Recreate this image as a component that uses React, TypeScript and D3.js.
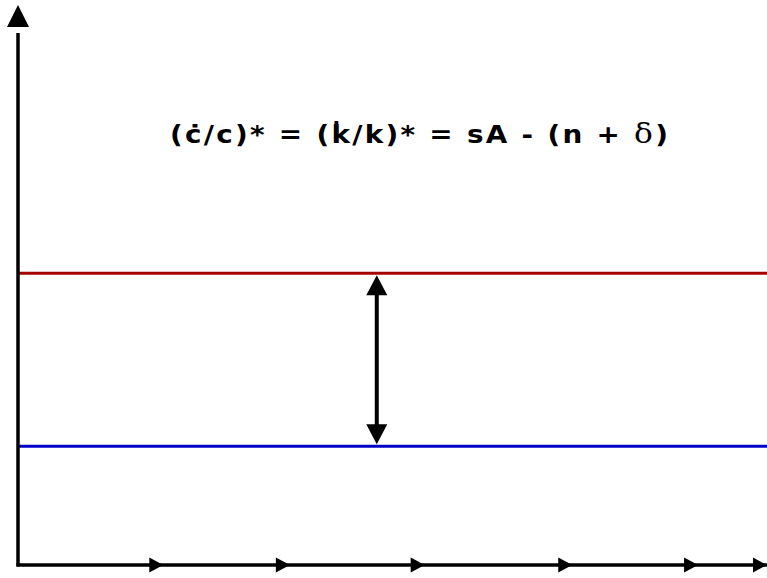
import React from "react";
import * as d3 from "d3";

const W = 767;
const H = 578;

// time-axis direction markers (x positions of arrow tips, in data units)
const timeArrows = [1.94, 3.63, 5.43, 7.4, 9.08, 10];
// horizontal growth-rate levels
const levels = [
  { name: "sA", value: 5.21, color: "#a50000" },
  { name: "n + δ", value: 2.12, color: "#0000c8" },
];

export default function App() {
  const x = d3.scaleLinear().domain([0, 10]).range([18, 767]);
  const y = d3.scaleLinear().domain([0, 10]).range([565, 5]);

  const y0 = y(0);
  const xa = x(0);
  const upper = y(levels[0].value);
  const lower = y(levels[1].value);
  const arrowX = x(4.79);

  const rightTri = (tip: number, cy: number) =>
    `M${tip},${cy} L${tip - 14},${cy - 7.5} L${tip - 14},${cy + 7.5} Z`;

  const sx = 1.16;

  return (
    <svg
      width={W}
      height={H}
      style={{ position: "absolute", left: 0, top: 0, background: "#fff" }}
    >
      {/* level lines */}
      {levels.map((l) => (
        <line
          key={l.name}
          x1={xa}
          x2={x(10)}
          y1={y(l.value)}
          y2={y(l.value)}
          stroke={l.color}
          strokeWidth={3}
        />
      ))}

      {/* y axis */}
      <line x1={xa} x2={xa} y1={y0 + 1.5} y2={y(9.5)} stroke="#000" strokeWidth={3.5} />
      <path d={`M${xa},${y(10)} L${xa - 11},${y(10) + 22} L${xa + 11},${y(10) + 22} Z`} fill="#000" />

      {/* x axis */}
      <line x1={xa - 1.5} x2={x(10)} y1={y0} y2={y0} stroke="#000" strokeWidth={3.5} />
      {timeArrows.map((t, i) => (
        <path key={i} d={rightTri(x(t), y0)} fill="#000" />
      ))}

      {/* double arrow between levels */}
      <line x1={arrowX} x2={arrowX} y1={upper + 15} y2={lower - 15} stroke="#000" strokeWidth={4} />
      <path d={`M${arrowX},${upper + 2} L${arrowX - 10.5},${upper + 22} L${arrowX + 10.5},${upper + 22} Z`} fill="#000" />
      <path d={`M${arrowX},${lower - 2} L${arrowX - 10.5},${lower - 22} L${arrowX + 10.5},${lower - 22} Z`} fill="#000" />

      {/* equation */}
      <g transform={`translate(170,143) scale(${sx},1)`}>
        <text
          x={0}
          y={0}
          fontFamily="DejaVu Sans, Verdana, sans-serif"
          fontWeight="bold"
          fontSize={24}
          fill="#000"
          textLength={498 / sx}
          lengthAdjust="spacing"
        >
          (ċ/c)* = (k̇/k)* = sA - (n +{" "}
          <tspan fontFamily="DejaVu Serif, serif" fontWeight="normal" fontSize={27}>δ</tspan>)
        </text>
      </g>
    </svg>
  );
}
